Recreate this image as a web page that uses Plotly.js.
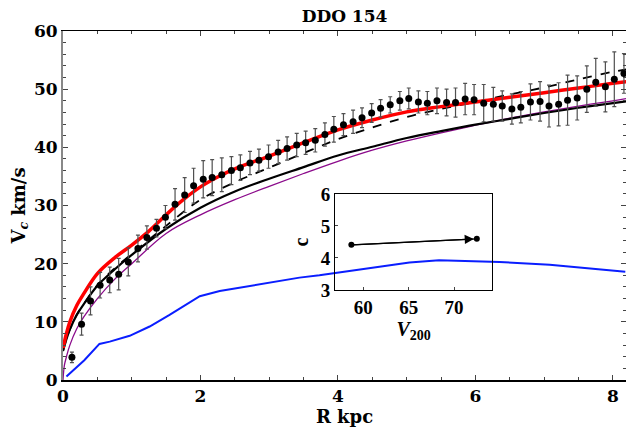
<!DOCTYPE html>
<html><head><meta charset="utf-8">
<script src="https://cdn.plot.ly/plotly-3.0.1.min.js"></script>
<style>html,body{margin:0;padding:0;background:#fff}#chart{width:626px;height:427px}</style>
</head><body><div id="chart"></div>
<script>
// Observed rotation curve
const obsR = [0.13,0.27,0.40,0.54,0.68,0.81,0.95,1.09,1.22,1.36,1.49,1.63,1.77,1.90,2.04,2.17,2.31,2.45,2.58,2.72,2.85,2.99,3.13,3.26,3.40,3.53,3.67,3.81,3.94,4.08,4.22,4.35,4.49,4.62,4.76,4.90,5.03,5.17,5.30,5.44,5.58,5.71,5.85,5.98,6.12,6.26,6.39,6.53,6.66,6.80,6.94,7.07,7.21,7.34,7.48,7.62,7.75,7.89,8.02,8.16];
const obsV = [3.9,9.6,13.6,16.3,17.2,18.2,20.3,22.6,24.5,26.1,28.0,30.2,31.8,33.4,34.5,34.8,35.3,36.0,36.5,37.3,37.8,38.4,39.2,39.8,40.4,40.8,41.2,42.2,43.1,43.9,44.4,45.1,45.9,46.7,47.3,48.0,48.4,47.8,47.6,48.0,47.7,47.7,48.3,48.2,47.6,47.4,47.1,46.6,46.9,47.8,47.9,47.1,47.4,48.1,48.5,50.0,51.2,50.4,51.7,52.7];
const obsErr = [0.9,1.9,2.4,2.2,2.2,2.7,2.4,2.3,2.0,1.5,2.0,2.7,3.0,3.0,3.2,3.1,2.9,2.4,2.2,2.0,1.9,2.0,2.0,2.0,2.0,2.0,2.0,2.0,2.2,1.9,2.0,1.7,1.6,1.5,1.4,1.6,1.8,1.9,2.0,2.2,2.3,2.5,2.7,2.6,3.2,2.9,2.6,2.6,2.7,3.1,3.4,3.6,3.7,4.3,3.8,4.0,4.1,4.3,4.7,3.4];

// Model curves
const redR = [0,0.05,0.1,0.2,0.3,0.5,0.75,1.0,1.25,1.5,1.75,2.0,2.25,2.5,3.0,3.5,4.0,4.5,5.0,5.5,6.0,6.5,7.0,7.5,8.0,8.2];
const redV = [5.5,8,10,12.8,14.8,18.3,21,23.2,25.6,28.4,31.0,33.2,34.9,36.3,38.5,40.8,43.0,44.7,46.1,47.0,47.8,48.6,49.4,50.2,51.0,51.3];
const solidR = [0,0.05,0.1,0.2,0.3,0.5,0.75,1.0,1.5,2.0,2.5,3.0,3.5,4.0,4.5,5.0,5.5,6.0,6.5,7.0,7.5,8.0,8.2];
const solidV = [5,7,8.7,11.2,13,16.2,19,21.5,26.0,29.6,32.4,34.6,36.6,38.6,40.1,41.6,42.8,43.9,44.9,45.9,46.8,47.6,47.9];
const dashR = [0,0.05,0.1,0.2,0.3,0.5,0.75,1.0,1.5,2.0,2.5,3.0,3.5,4.0,4.5,5.0,5.5,6.0,6.5,7.0,7.5,8.0,8.2];
const dashV = [5,7,8.7,11.2,13,16.3,19.2,21.7,26.5,31.0,34.0,36.5,39.0,41.4,43.4,45.2,46.6,47.8,49.1,50.3,51.7,53.0,53.4];
const purpleR = [0,0.02,0.05,0.1,0.2,0.3,0.5,0.75,1.0,1.5,2.0,2.5,3.0,3.5,4.0,4.5,5.0,5.5,6.0,6.5,7.0,7.5,8.0,8.2];
const purpleV = [0,2.5,4,6,8.8,10.8,14,17.3,20,25.2,28.4,31.0,33.3,35.5,37.6,39.5,41.1,42.5,43.8,45.0,46.1,47.1,48.0,48.4];
const blueR = [0.05,0.31,0.53,0.68,0.97,1.26,1.55,1.99,2.28,2.86,3.44,3.73,4.46,4.75,5.04,5.47,5.77,6.35,7.08,7.66,8.18];
const blueV = [0.6,3.4,6.2,6.6,7.6,9.2,11.2,14.4,15.3,16.4,17.6,18.0,19.2,19.8,20.2,20.6,20.5,20.3,19.8,19.2,18.6];

// Inset: concentration vs V200
const insetV200 = [58.7,72.5];
const insetC = [4.41,4.60];

const xTicks = [0,2,4,6,8];
const yTicks = [0,10,20,30,40,50,60];
const insetXTicks = [60,65,70];
const insetYTicks = [3,4,5,6];

const FONT = 'DejaVu Serif';
const SERIF = 'Liberation Serif';

const traces = [
  {x: purpleR, y: purpleV, mode:'lines', line:{color:'#8b0a8b', width:1.3, shape:'spline'}},
  {x: solidR, y: solidV, mode:'lines', line:{color:'black', width:2.2, shape:'spline'}},
  {x: dashR, y: dashV, mode:'lines', line:{color:'black', width:1.8, dash:'dash', shape:'spline'}},
  {x: blueR, y: blueV, mode:'lines', line:{color:'#0a1eff', width:2}},
  {x: redR, y: redV, mode:'lines', line:{color:'#ff0000', width:3.5, shape:'spline'}},
  {x: obsR, y: obsV, mode:'markers', marker:{color:'black', size:7},
   error_y:{type:'data', array: obsErr, visible:true, color:'#505050', thickness:1.2, width:2}},
  {x: insetV200, y: insetC, xaxis:'x2', yaxis:'y2', mode:'markers+lines',
   line:{color:'black', width:1.3}, marker:{color:'black', size:6}}
];

const layout = {
  width:626, height:427,
  margin:{l:63, r:0, t:31, b:47},
  paper_bgcolor:'white', plot_bgcolor:'rgba(0,0,0,0)',
  showlegend:false,
  title:{text:'DDO 154', x:0.5, xref:'paper', y:0.962, yref:'container', yanchor:'middle',
         font:{family:FONT, size:17, weight:'bold', color:'black'}},
  xaxis:{range:[0,8.19], domain:[0,1], showline:true, linecolor:'black', linewidth:1.5, mirror:'allticks',
         ticks:'inside', ticklen:5, tickcolor:'#444', tickvals:xTicks, showgrid:false, zeroline:false,
         minor:{dtick:0.5, tick0:0, ticks:'inside', ticklen:3, tickcolor:'#444', showgrid:false},
         tickfont:{family:FONT, size:17, weight:'bold', color:'black'},
         title:{text:'R kpc', font:{family:FONT, size:18, weight:'bold', color:'black'}, standoff:4}},
  yaxis:{range:[0,60], domain:[0,1], showline:true, linecolor:'#888', linewidth:2, mirror:'allticks',
         ticks:'inside', ticklen:5, tickcolor:'#444', tickvals:yTicks, showgrid:false, zeroline:false,
         minor:{dtick:2, tick0:0, ticks:'inside', ticklen:3, tickcolor:'#444', showgrid:false},
         tickfont:{family:FONT, size:17, weight:'bold', color:'black'},
         title:{text:'V<sub><i>c</i></sub> km/s', font:{family:FONT, size:18, weight:'bold', color:'black'}, standoff:4}},
  xaxis2:{anchor:'y2', domain:[0.4831,0.7625], range:[56.9,74.2], showline:true, linecolor:'black', linewidth:1,
          mirror:true, ticks:'inside', ticklen:3, tickvals:insetXTicks, showgrid:false, zeroline:false,
          tickfont:{family:SERIF, size:19, weight:'bold', color:'black'},
          title:{text:'<i>V</i><sub>200</sub>', font:{family:SERIF, size:20, weight:'bold', color:'black'}, standoff:2}},
  yaxis2:{anchor:'x2', domain:[0.2579,0.533], range:[3,6], showline:true, linecolor:'black', linewidth:1,
          mirror:true, ticks:'inside', ticklen:3, tickvals:insetYTicks, showgrid:false, zeroline:false,
          tickfont:{family:SERIF, size:19, weight:'bold', color:'black'},
          title:{text:'c', font:{family:SERIF, size:20, weight:'bold', color:'black'}, standoff:6}},
  annotations:[{x:insetV200[1], y:insetC[1], ax:insetV200[0], ay:insetC[0],
                xref:'x2', yref:'y2', axref:'x2', ayref:'y2', text:'', showarrow:true,
                arrowhead:2, arrowsize:1.4, arrowwidth:1.3, arrowcolor:'black', standoff:3}]
};

Plotly.newPlot('chart', traces, layout, {staticPlot:true, displayModeBar:false});
</script></body></html>
